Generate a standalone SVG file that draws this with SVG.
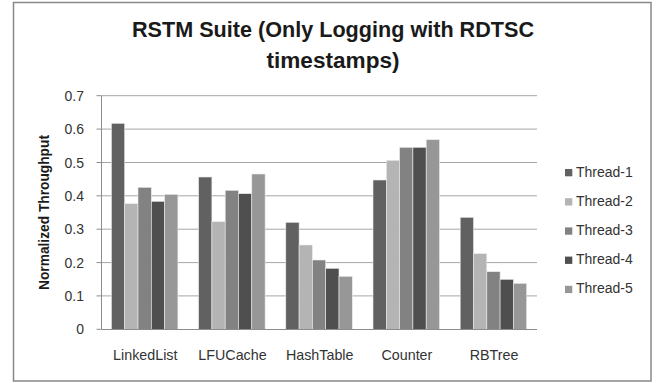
<svg xmlns="http://www.w3.org/2000/svg" width="657" height="383" viewBox="0 0 657 383">
<style>
.t{font-family:"Liberation Sans",Arial,sans-serif;fill:#1a1a1a}
.title{font-size:22px;font-weight:bold;text-anchor:middle}
.ytick{font-size:14px;text-anchor:end;fill:#333}
.cat{font-size:14.3px;text-anchor:middle;fill:#333}
.leg{font-size:14px;fill:#333}
.grid{stroke:#a6a6a6;stroke-width:1}
.s1{fill:#616161}.s2{fill:#b4b4b4}.s3{fill:#828282}.s4{fill:#4f4f4f}.s5{fill:#979797}
.bar rect{stroke:#ececec;stroke-width:0.6}
</style>
<rect x="0" y="0" width="657" height="383" fill="#ffffff"/>
<rect x="13.5" y="2.5" width="637.5" height="378.5" fill="#ffffff" stroke="#888888" stroke-width="1.5"/>
<g id="title">
<text class="t title" x="333" y="37" textLength="402" lengthAdjust="spacingAndGlyphs">RSTM Suite (Only Logging with RDTSC</text>
<text class="t title" x="333" y="68" textLength="133" lengthAdjust="spacingAndGlyphs">timestamps)</text>
</g>
<g id="grid">
<line class="grid" x1="101.5" y1="95.7" x2="537" y2="95.7"/>
<line class="grid" x1="101.5" y1="129.1" x2="537" y2="129.1"/>
<line class="grid" x1="101.5" y1="162.5" x2="537" y2="162.5"/>
<line class="grid" x1="101.5" y1="195.8" x2="537" y2="195.8"/>
<line class="grid" x1="101.5" y1="229.2" x2="537" y2="229.2"/>
<line class="grid" x1="101.5" y1="262.6" x2="537" y2="262.6"/>
<line class="grid" x1="101.5" y1="295.9" x2="537" y2="295.9"/>
</g>
<g id="yaxis">
<line x1="101.5" y1="95.7" x2="101.5" y2="329.3" stroke="#8c8c8c" stroke-width="1"/>
<path d="M96.5 95.7H101.5M96.5 129.1H101.5M96.5 162.5H101.5M96.5 195.8H101.5M96.5 229.2H101.5M96.5 262.6H101.5M96.5 295.9H101.5M96.5 329.3H101.5" stroke="#8c8c8c" stroke-width="1"/>
<text class="t ytick" x="84" y="100.7">0.7</text>
<text class="t ytick" x="84" y="134.1">0.6</text>
<text class="t ytick" x="84" y="167.5">0.5</text>
<text class="t ytick" x="84" y="200.8">0.4</text>
<text class="t ytick" x="84" y="234.2">0.3</text>
<text class="t ytick" x="84" y="267.6">0.2</text>
<text class="t ytick" x="84" y="300.9">0.1</text>
<text class="t ytick" x="84" y="334.3">0</text>
<text class="t" transform="translate(48.5 212.5) rotate(-90)" text-anchor="middle" font-size="14" font-weight="bold" textLength="155" lengthAdjust="spacingAndGlyphs">Normalized Throughput</text>
</g>
<g id="bars" class="bar">
<g id="thread1" class="s1">
<rect x="111.4" y="123.3" width="13.3" height="206"/>
<rect x="198.6" y="177" width="13.3" height="152.3"/>
<rect x="285.8" y="222.3" width="13.3" height="107"/>
<rect x="373" y="180" width="13.3" height="149.3"/>
<rect x="460.2" y="217.3" width="13.3" height="112"/>
</g>
<g id="thread2" class="s2">
<rect x="124.7" y="203.7" width="13.3" height="125.6"/>
<rect x="211.9" y="221.7" width="13.3" height="107.6"/>
<rect x="299.1" y="245" width="13.3" height="84.3"/>
<rect x="386.3" y="160.3" width="13.3" height="169"/>
<rect x="473.5" y="253.7" width="13.3" height="75.6"/>
</g>
<g id="thread3" class="s3">
<rect x="138" y="187.3" width="13.3" height="142"/>
<rect x="225.2" y="190.3" width="13.3" height="139"/>
<rect x="312.4" y="260" width="13.3" height="69.3"/>
<rect x="399.6" y="147.3" width="13.3" height="182"/>
<rect x="486.8" y="271.7" width="13.3" height="57.6"/>
</g>
<g id="thread4" class="s4">
<rect x="151.3" y="201.3" width="13.3" height="128"/>
<rect x="238.5" y="193.7" width="13.3" height="135.6"/>
<rect x="325.7" y="268.3" width="13.3" height="61"/>
<rect x="412.9" y="147.3" width="13.3" height="182"/>
<rect x="500.1" y="279.3" width="13.3" height="50"/>
</g>
<g id="thread5" class="s5">
<rect x="164.6" y="194.3" width="13.3" height="135"/>
<rect x="251.8" y="174" width="13.3" height="155.3"/>
<rect x="339" y="276.3" width="13.3" height="53"/>
<rect x="426.2" y="139.7" width="13.3" height="189.6"/>
<rect x="513.4" y="283.3" width="13.3" height="46"/>
</g>
</g>
<g id="xaxis">
<line x1="101.5" y1="329.5" x2="537" y2="329.5" stroke="#8c8c8c" stroke-width="1"/>
<text class="t cat" x="145.3" y="360">LinkedList</text>
<text class="t cat" x="232.5" y="360">LFUCache</text>
<text class="t cat" x="319.7" y="360">HashTable</text>
<text class="t cat" x="406.9" y="360">Counter</text>
<text class="t cat" x="494.1" y="360">RBTree</text>
</g>
<g id="legend">
<rect class="s1" x="565" y="169" width="7.3" height="7.3"/>
<text class="t leg" x="576" y="176.5">Thread-1</text>
<rect class="s2" x="565" y="198.2" width="7.3" height="7.3"/>
<text class="t leg" x="576" y="205.7">Thread-2</text>
<rect class="s3" x="565" y="227.4" width="7.3" height="7.3"/>
<text class="t leg" x="576" y="234.9">Thread-3</text>
<rect class="s4" x="565" y="256.6" width="7.3" height="7.3"/>
<text class="t leg" x="576" y="264.1">Thread-4</text>
<rect class="s5" x="565" y="285.8" width="7.3" height="7.3"/>
<text class="t leg" x="576" y="293.3">Thread-5</text>
</g>
</svg>
